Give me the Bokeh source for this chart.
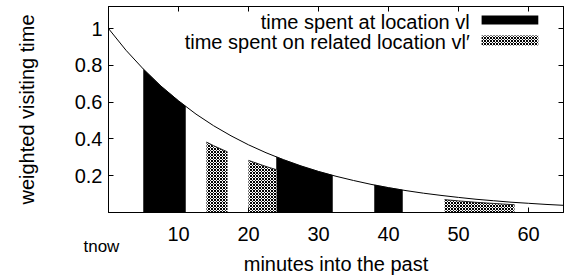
import numpy as np
from bokeh.plotting import figure
from bokeh.models import Range1d, FixedTicker, LinearAxis, Label, BoxAnnotation
from bokeh.embed import file_html
from bokeh.resources import INLINE

# ---- data ----
minutes = [0, 2.5, 5, 7.5, 10, 12.5, 15, 17.5, 20, 22.5, 25, 27.5, 30, 32.5,
           35, 37.5, 40, 42.5, 45, 47.5, 50, 52.5, 55, 57.5, 60, 62.5, 65]
weight = [1.000, 0.882, 0.779, 0.687, 0.607, 0.535, 0.472, 0.417, 0.368, 0.325,
          0.287, 0.253, 0.223, 0.197, 0.174, 0.153, 0.135, 0.119, 0.105, 0.093,
          0.082, 0.072, 0.064, 0.056, 0.050, 0.044, 0.039]

vl_start = [5, 24, 38]
vl_end = [11, 32, 42]
rel_start = [14, 20, 48]
rel_end = [17, 24, 58]
rel_factor = 0.77

x_ticks = [0, 10, 20, 30, 40, 50, 60]
x_tick_labels = ["", "10", "20", "30", "40", "50", "60"]
now_tick = [0]
now_label = ["tnow"]
y_ticks = [0.2, 0.4, 0.6, 0.8, 1.0]
y_tick_labels = ["0.2", "0.4", "0.6", "0.8", "1"]
legend_labels = ["time spent at location vl", "time spent on related location vl\u2032"]

FONT = "Liberation Sans"
FS = "20px"


def region(a, b, f):
    inner = [m for m in minutes if a < m < b]
    xs = [a] + inner + [b]
    ys = list(np.interp(xs, minutes, weight) * f)
    return [a] + xs + [b], [0.0] + ys + [0.0], xs, ys


p = figure(width=565, height=280, output_backend="svg", toolbar_location=None,
           x_range=Range1d(0, 65), y_range=Range1d(0, 1.12),
           min_border_left=108, min_border_right=2, min_border_top=6, min_border_bottom=68)
p.grid.visible = False
p.outline_line_color = "black"
p.outline_line_width = 1

# black regions
bx, by, tx, ty = [], [], [], []
for a, b in zip(vl_start, vl_end):
    px_, py_, _, _ = region(a, b, 1.0)
    bx.append(px_); by.append(py_)
p.patches(bx, by, fill_color="black", line_color="black", line_width=0.5)

# hatched regions
hx, hy = [], []
for a, b in zip(rel_start, rel_end):
    px_, py_, xs, ys = region(a, b, rel_factor)
    hx.append(px_); hy.append(py_)
    tx.append(xs); ty.append(ys)
p.patches(hx, hy, fill_color="white", line_color=None,
          hatch_pattern="diagonal_cross", hatch_color="black",
          hatch_scale=3, hatch_weight=1)
p.multi_line(tx, ty, line_color="#222222", line_width=1)

# decay curve
p.line(minutes, weight, line_color="black", line_width=1)


def style_axis(ax):
    ax.axis_line_color = "black"
    ax.major_tick_in = 5
    ax.major_tick_out = 0
    ax.minor_tick_line_color = None
    ax.major_tick_line_color = "black"
    ax.major_label_text_font = FONT
    ax.major_label_text_font_size = FS
    ax.major_label_text_color = "black"
    ax.axis_label_text_font = FONT
    ax.axis_label_text_font_size = FS
    ax.axis_label_text_font_style = "normal"
    ax.axis_label_text_color = "black"


xa = p.xaxis[0]
xa.ticker = FixedTicker(ticks=x_ticks)
xa.major_label_overrides = {t: l for t, l in zip(x_ticks, x_tick_labels)}
style_axis(xa)
xa.major_label_standoff = 14

# second bottom axis: the t_now mark under x = 0, and the axis title
xb = LinearAxis(ticker=FixedTicker(ticks=now_tick),
                major_label_overrides={t: l + "\u00a0\u00a0\u00a0" for t, l in zip(now_tick, now_label)})
style_axis(xb)
xb.axis_line_color = None
xb.major_tick_line_color = None
xb.major_tick_in = 0
xb.major_label_text_font_size = "17px"
xb.major_label_standoff = -7
xb.axis_label = "minutes into the past"
xb.axis_label_standoff = -6
p.add_layout(xb, "below")

ya = p.yaxis[0]
ya.ticker = FixedTicker(ticks=y_ticks)
ya.major_label_overrides = {t: l for t, l in zip(y_ticks, y_tick_labels)}
ya.axis_label = "weighted visiting time"
style_axis(ya)
ya.major_label_standoff = 6
ya.axis_label_standoff = 34

top = LinearAxis(ticker=FixedTicker(ticks=x_ticks),
                 major_label_overrides={t: "" for t in x_ticks})
style_axis(top)
top.major_label_text_font_size = "0px"
top.major_label_standoff = 0
p.add_layout(top, "above")

right = LinearAxis(ticker=FixedTicker(ticks=y_ticks),
                   major_label_overrides={t: "" for t in y_ticks})
style_axis(right)
right.major_label_text_font_size = "0px"
right.major_label_standoff = 0
p.add_layout(right, "right")

# legend (text right-aligned, sample to the right)
p.add_layout(Label(x=51.6, y=1.038, text=legend_labels[0], text_font=FONT, text_font_size=FS,
                   text_baseline="middle", text_align="right", text_color="black"))
p.add_layout(Label(x=51.6, y=0.929, text=legend_labels[1], text_font=FONT, text_font_size=FS,
                   text_baseline="middle", text_align="right", text_color="black"))
p.add_layout(BoxAnnotation(left=53.3, right=61.4, bottom=1.022, top=1.071,
                           fill_color="black", fill_alpha=1, line_color=None))
p.add_layout(BoxAnnotation(left=53.3, right=61.4, bottom=0.908, top=0.962,
                           fill_color="white", fill_alpha=1, line_color=None,
                           hatch_pattern="diagonal_cross", hatch_color="black",
                           hatch_scale=3, hatch_weight=1, hatch_alpha=1))

open("out.html", "w").write(file_html(p, INLINE))
